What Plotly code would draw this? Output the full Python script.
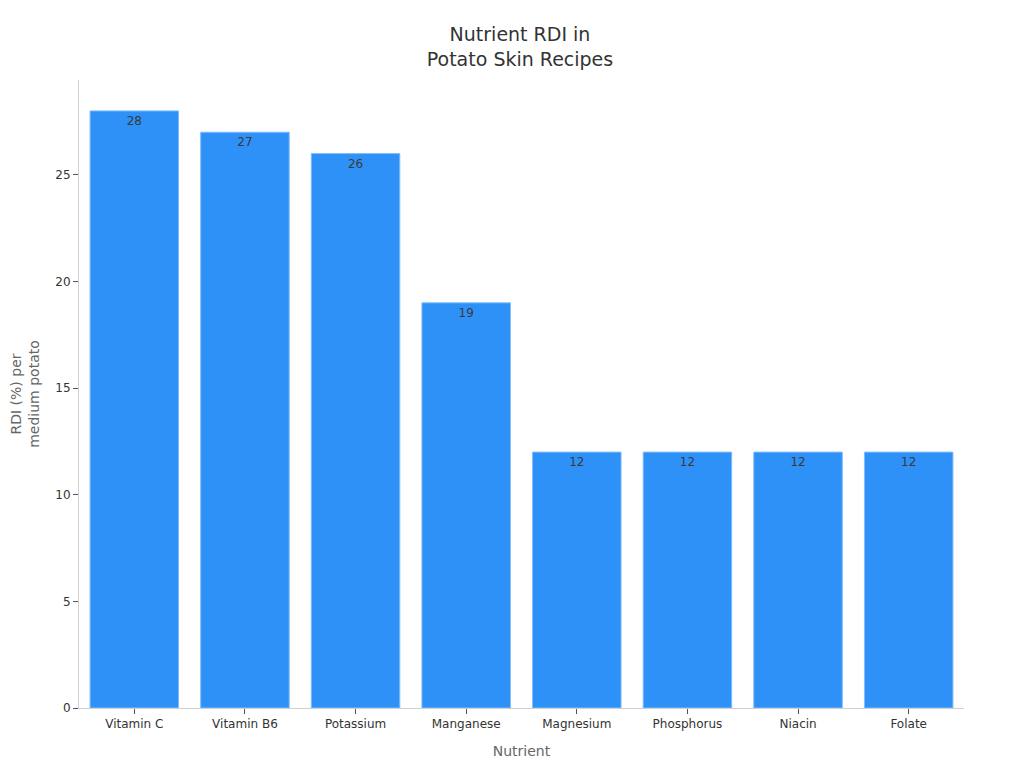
import plotly.graph_objects as go

nutrients = ["Vitamin C", "Vitamin B6", "Potassium", "Manganese",
             "Magnesium", "Phosphorus", "Niacin", "Folate"]
rdi_values = [28, 27, 26, 19, 12, 12, 12, 12]

fig = go.Figure(
    go.Bar(
        x=nutrients,
        y=rdi_values,
        text=rdi_values,
        textposition="inside",
        insidetextanchor="end",
        textfont=dict(color="#3a3a3a", size=12),
        marker=dict(color="#2e91f7", line=dict(color="#7fbcf9", width=1)),
    )
)

fig.update_layout(
    width=1024,
    height=768,
    font=dict(family="DejaVu Sans", color="#333333"),
    title=dict(text="Nutrient RDI in<br>Potato Skin Recipes", x=0.5, xanchor="center",
               y=0.957, yanchor="top", font=dict(size=19, color="#333333")),
    plot_bgcolor="white",
    paper_bgcolor="white",
    margin=dict(l=71, r=68, t=72, b=68),
    bargap=0.2,
    showlegend=False,
)
fig.update_xaxes(
    title=dict(text="Nutrient", font=dict(size=14, color="#666666")),
    tickfont=dict(size=12),
    showline=True, linecolor="#d0d0d0",
    ticks="outside", ticklen=5, tickcolor="#555555",
)
fig.update_yaxes(
    title=dict(text="RDI (%) per<br>medium potato", font=dict(size=14, color="#666666")),
    tickfont=dict(size=12),
    range=[0, 29.45],
    automargin=False,
    showgrid=False, zeroline=False,
    showline=True, linecolor="#d0d0d0",
    ticks="outside", ticklen=5, tickcolor="#555555",
    dtick=5,
)

fig.write_html("out.html")
